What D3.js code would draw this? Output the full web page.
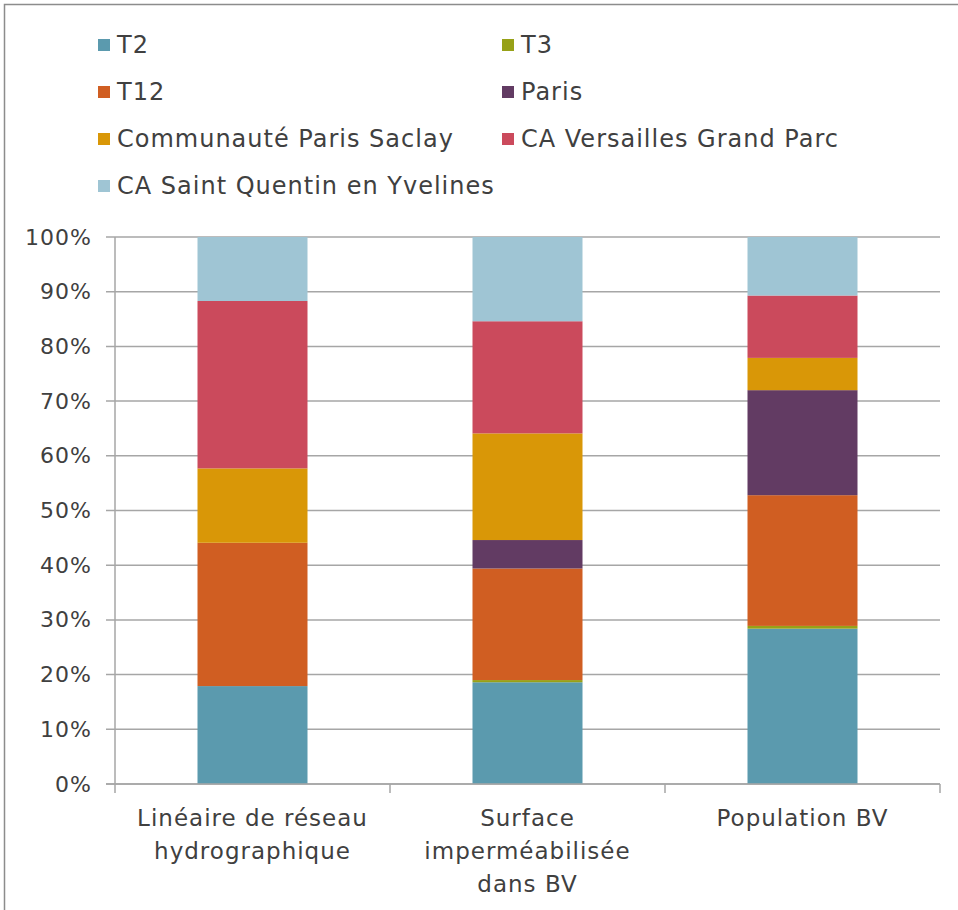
<!DOCTYPE html>
<html>
<head>
<meta charset="utf-8">
<script src="https://cdn.jsdelivr.net/npm/d3@7"></script>
<style>
  body { margin: 0; background: #fff; }
  text { font-family: "DejaVu Sans", sans-serif; fill: #404040; letter-spacing: 1px; }
</style>
</head>
<body>
<div id="container"></div>
<script>
// data
var categories = ["Linéaire de réseau|hydrographique", "Surface|imperméabilisée|dans BV", "Population BV"];
var seriesNames = ["T2", "T3", "T12", "Paris", "Communauté Paris Saclay", "CA Versailles Grand Parc", "CA Saint Quentin en Yvelines"];
var seriesColors = ["#5b9aae", "#97a117", "#d05e22", "#623b63", "#d99707", "#cb4a5c", "#9fc5d4"];
var t2 = [17.9, 18.6, 28.4];
var t3 = [0, 0.4, 0.5];
var t12 = [26.2, 20.4, 23.9];
var paris = [0, 5.2, 19.2];
var saclay = [13.6, 19.5, 5.9];
var versailles = [30.6, 20.5, 11.4];
var sqy = [11.7, 15.4, 10.7];
var yTicks = [0, 10, 20, 30, 40, 50, 60, 70, 80, 90, 100];

var values = [t2, t3, t12, paris, saclay, versailles, sqy];

var W = 958, H = 910;
var margin = {top: 237, left: 115, right: 18, bottom: 126};
var width = W - margin.left - margin.right,
    height = H - margin.top - margin.bottom;

var svg = d3.select("#container").append("svg")
  .attr("width", W).attr("height", H);

// outer frame
svg.append("rect")
  .attr("x", 4.5).attr("y", 4.5)
  .attr("width", W + 10).attr("height", H + 10)
  .attr("fill", "none").attr("stroke", "#8c8c8c").attr("stroke-width", 1.5);

var table = categories.map(function(c, i) {
  var row = {cat: c};
  seriesNames.forEach(function(s, j) { row[s] = values[j][i]; });
  return row;
});
var stacked = d3.stack().keys(seriesNames)(table);

var xScale = d3.scaleBand()
  .domain(categories)
  .range([0, width])
  .paddingInner(0.6)
  .paddingOuter(0.3);

var yScale = d3.scaleLinear()
  .domain([0, 100])
  .range([height, 0]);

var g = svg.append("g")
  .attr("transform", "translate(" + margin.left + "," + margin.top + ")");

// gridlines
g.append("g")
  .selectAll("line")
  .data(yTicks)
  .enter().append("line")
    .attr("x1", -9).attr("x2", width)
    .attr("y1", function(d) { return yScale(d); })
    .attr("y2", function(d) { return yScale(d); })
    .attr("stroke", "#a6a6a6").attr("stroke-width", 1.5);

// bars
g.selectAll(".serie")
  .data(stacked)
  .enter().append("g")
    .attr("fill", function(d, i) { return seriesColors[i]; })
  .selectAll("rect")
  .data(function(d) { return d; })
  .enter().append("rect")
    .attr("x", function(d) { return xScale(d.data.cat); })
    .attr("y", function(d) { return yScale(d[1]); })
    .attr("height", function(d) { return yScale(d[0]) - yScale(d[1]); })
    .attr("width", xScale.bandwidth());

// y axis
var yAxis = d3.axisLeft(yScale)
  .tickValues(yTicks)
  .tickSize(0)
  .tickPadding(23)
  .tickFormat(function(d) { return d + "%"; });

g.append("g")
  .call(yAxis)
  .call(function(a) {
    a.select(".domain").remove();
    a.selectAll(".tick text").attr("font-size", 22).attr("fill", "#404040")
      .attr("font-family", "DejaVu Sans, sans-serif");
  });

g.append("line")
  .attr("x1", 0).attr("x2", 0).attr("y1", 0).attr("y2", height)
  .attr("stroke", "#a6a6a6").attr("stroke-width", 1.5);

// x axis
g.append("line")
  .attr("x1", -9).attr("x2", width).attr("y1", height).attr("y2", height)
  .attr("stroke", "#a6a6a6").attr("stroke-width", 1.5);

var step = xScale.step();
g.selectAll(".xtick")
  .data(d3.range(categories.length + 1))
  .enter().append("line")
    .attr("x1", function(i) { return i * step; })
    .attr("x2", function(i) { return i * step; })
    .attr("y1", height).attr("y2", height + 9)
    .attr("stroke", "#a6a6a6").attr("stroke-width", 1.5);

g.selectAll(".xlabel")
  .data(categories)
  .enter().append("text")
    .attr("text-anchor", "middle")
    .attr("font-size", 23)
    .attr("transform", function(d) {
      return "translate(" + (xScale(d) + xScale.bandwidth() / 2) + "," + (height + 42) + ")";
    })
  .selectAll("tspan")
  .data(function(d) { return d.split("|"); })
  .enter().append("tspan")
    .attr("x", 0)
    .attr("dy", function(d, i) { return i === 0 ? 0 : 33; })
    .text(function(d) { return d; });

// legend
var legend = svg.append("g");
var legItems = legend.selectAll("g")
  .data(seriesNames)
  .enter().append("g")
    .attr("transform", function(d, i) {
      var col = i % 2, row = Math.floor(i / 2);
      return "translate(" + (col === 0 ? 98 : 502) + "," + (45 + row * 47) + ")";
    });

legItems.append("rect")
  .attr("x", 0).attr("y", -6)
  .attr("width", 12).attr("height", 12)
  .attr("fill", function(d, i) { return seriesColors[i]; });

legItems.append("text")
  .attr("x", 19).attr("dy", "0.35em")
  .attr("font-size", 24)
  .text(function(d) { return d; });
</script>
</body>
</html>
